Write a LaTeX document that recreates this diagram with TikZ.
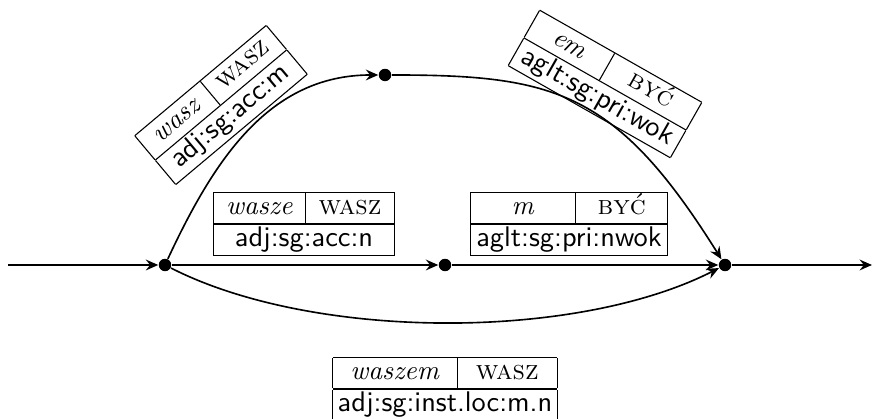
\documentclass[tikz,border=0pt]{standalone}
\usepackage{fontspec}
\usetikzlibrary{arrows.meta}

% one analysis: form | lemma over tag
\newcommand{\morph}[5]{%
  {\setlength{\tabcolsep}{0pt}\renewcommand{\arraystretch}{0.95}%
  \begin{tabular}{|c|c|}\hline
  \makebox[#1]{\textit{#3}} & \makebox[#2]{\textsc{#4}}\\\hline
  \multicolumn{2}{|c|}{\fontsize{10.5}{12}\selectfont\textsf{#5}}\\\hline
  \end{tabular}}}

\begin{document}
\begin{tikzpicture}[x=0.013cm, y=0.013cm, >={Stealth[length=4.6pt, width=4pt, inset=1.6pt]},
    state/.style={circle, fill=black, inner sep=0pt, minimum size=4.6pt},
    edge/.style={->, line width=0.6pt},
    morph box/.style={inner sep=0pt}
]
\useasboundingbox (0,0) rectangle (874,419);
\node[state] (s0) at (165,154) {};
\node[state] (s1) at (445,154) {};
\node[state] (s2) at (725,154) {};
\node[state] (t) at (385,344) {};
\coordinate (in) at (8,154);
\coordinate (out) at (872,154);

\draw[edge] (in) -- (s0);
\draw[edge] (s0) -- (s1);
\draw[edge] (s1) -- (s2);
\draw[edge] (s2) -- (out);
\draw[edge] (s0) to[out=65, in=180] (t);
\draw[edge] (t) to[out=0, in=122, out looseness=1.1, in looseness=1.35] (s2);
\draw[edge] (s0) to[out=-27, in=207, looseness=0.75] (s2);

\node[morph box, rotate=40] (wasz) at (221,314) {\morph{31.5pt}{32pt}{wasz}{wasz}{adj:sg:acc:m}};
\node[morph box, rotate=-29.6] (em) at (605,335) {\morph{32pt}{37pt}{em}{być}{aglt:sg:pri:wok}};
\node[morph box] (wasze) at (304,195) {\morph{34pt}{33pt}{wasze}{wasz}{adj:sg:acc:n}};
\node[morph box] (m) at (569,195) {\morph{39pt}{34pt}{m}{być}{aglt:sg:pri:nwok}};
\node[morph box] (waszem) at (445,30) {\morph{46pt}{37pt}{waszem}{wasz}{adj:sg:inst.loc:m.n}};
\end{tikzpicture}
\end{document}
